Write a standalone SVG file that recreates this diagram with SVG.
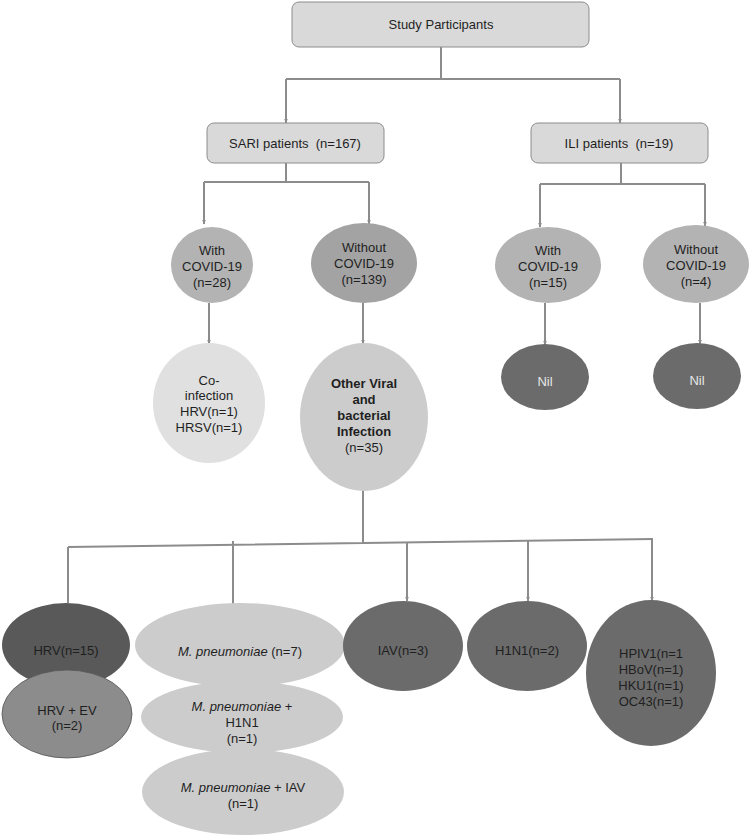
<svg xmlns="http://www.w3.org/2000/svg" width="752" height="838" viewBox="0 0 752 838">
<defs>
<marker id="ah" viewBox="0 0 10 10" refX="9" refY="5" markerWidth="5" markerHeight="5" orient="auto" markerUnits="userSpaceOnUse">
<path d="M0,1 L10,5 L0,9 z" fill="#8c8c8c"/>
</marker>
<style>
text{font-family:"Liberation Sans",Arial,sans-serif;font-size:13px;fill:#1f1f1f;text-anchor:middle}
.box{fill:#d9d9d9;stroke:#8c8c8c;stroke-width:1}
.ln{stroke:#8c8c8c;stroke-width:2;fill:none}
.arr{stroke:#8c8c8c;stroke-width:2;fill:none;marker-end:url(#ah)}
.mid{fill:#b3b3b3}
.mid2{fill:#a3a3a3}
.lite{fill:#e0e0e0}
.lgr{fill:#cccccc}
.dark{fill:#6b6b6b}
.darker{fill:#595959}
.hrvev{fill:#8c8c8c;stroke:#555;stroke-width:0.8}
.b{font-weight:bold}
.i{font-style:italic}
.w{fill:#e6e6e6}
</style>
</defs>
<g id="connectors">
<path class="ln" d="M441,47 V79 M286,79 H620"/>
<path class="arr" d="M286,79 V123"/>
<path class="arr" d="M620,79 V123"/>
<path class="ln" d="M286,163 V182 M204,182 H369"/>
<path class="arr" d="M204,182 V224"/>
<path class="arr" d="M369,182 V224"/>
<path class="ln" d="M621,163 V184 M540,184 H705"/>
<path class="arr" d="M540,184 V227"/>
<path class="arr" d="M705,184 V226"/>
<path class="arr" d="M209,303 V344"/>
<path class="arr" d="M363,303 V344"/>
<path class="arr" d="M545,303 V345"/>
<path class="arr" d="M700,303 V344"/>
<path class="ln" d="M363,490 V543 M68,547 L653,539"/>
<path class="ln" d="M68,547 V603"/>
<path class="ln" d="M233,541 V604"/>
<path class="arr" d="M407,543 V601"/>
<path class="arr" d="M528,541 V601"/>
<path class="arr" d="M652,539 V601"/>
</g>
<g id="study"><rect class="box" x="292" y="2" width="297" height="45" rx="7"/><text x="441" y="29">Study Participants</text></g>
<g id="sari"><rect class="box" x="207" y="123" width="177" height="40" rx="7"/><text x="295" y="148" xml:space="preserve">SARI patients  (n=167)</text></g>
<g id="ili"><rect class="box" x="531" y="123" width="177" height="40" rx="7"/><text x="619" y="148" xml:space="preserve">ILI patients  (n=19)</text></g>
<g id="sari-with"><ellipse class="mid" cx="212" cy="265" rx="41" ry="38"/><text x="212" y="255">With</text><text x="212" y="271">COVID-19</text><text x="212" y="287">(n=28)</text></g>
<g id="sari-without"><ellipse class="mid2" cx="364" cy="263" rx="53" ry="40"/><text x="364" y="252">Without</text><text x="364" y="268">COVID-19</text><text x="364" y="284">(n=139)</text></g>
<g id="ili-with"><ellipse class="mid" cx="548" cy="265" rx="53" ry="38"/><text x="548" y="255">With</text><text x="548" y="271">COVID-19</text><text x="548" y="287">(n=15)</text></g>
<g id="ili-without"><ellipse class="mid" cx="696" cy="264" rx="53" ry="39"/><text x="696" y="254">Without</text><text x="696" y="270">COVID-19</text><text x="696" y="286">(n=4)</text></g>
<g id="coinf"><ellipse class="lite" cx="209" cy="403" rx="56" ry="60"/><text x="209" y="385">Co-</text><text x="209" y="400">infection</text><text x="209" y="416">HRV(n=1)</text><text x="209" y="432">HRSV(n=1)</text></g>
<g id="other"><ellipse class="lgr" cx="364" cy="417" rx="64" ry="74"/><text class="b" x="364" y="388">Other Viral</text><text class="b" x="364" y="404">and</text><text class="b" x="364" y="420">bacterial</text><text class="b" x="364" y="436">Infection</text><text x="364" y="452">(n=35)</text></g>
<g id="nil1"><ellipse class="dark" cx="545" cy="377" rx="44" ry="33"/><text class="w" x="545" y="386">Nil</text></g>
<g id="nil2"><ellipse class="dark" cx="697" cy="376" rx="44" ry="33"/><text class="w" x="697" y="385">Nil</text></g>
<g id="hrv"><ellipse class="darker" cx="66" cy="645" rx="64" ry="42"/><text x="66" y="655">HRV(n=15)</text></g>
<g id="hrvev"><ellipse class="hrvev" cx="67" cy="714" rx="65" ry="44"/><text x="67" y="715">HRV + EV</text><text x="67" y="730">(n=2)</text></g>
<g id="mp"><ellipse class="lgr" cx="240" cy="645" rx="105" ry="42"/><text x="240" y="656"><tspan class="i">M. pneumoniae</tspan> (n=7)</text></g>
<g id="mp-h1n1"><ellipse class="lgr" cx="242" cy="717" rx="101" ry="36"/><text x="242" y="711"><tspan class="i">M. pneumoniae</tspan> +</text><text x="242" y="727">H1N1</text><text x="242" y="743">(n=1)</text></g>
<g id="mp-iav"><ellipse class="lgr" cx="243" cy="792" rx="101" ry="43"/><text x="243" y="792"><tspan class="i">M. pneumoniae</tspan> + IAV</text><text x="243" y="808">(n=1)</text></g>
<g id="iav"><ellipse class="dark" cx="403" cy="646" rx="60" ry="45"/><text x="403" y="655">IAV(n=3)</text></g>
<g id="h1n1"><ellipse class="dark" cx="527" cy="646" rx="60" ry="45"/><text x="527" y="655">H1N1(n=2)</text></g>
<g id="others"><ellipse class="dark" cx="651" cy="673" rx="65" ry="73"/><text x="651" y="658">HPIV1(n=1</text><text x="651" y="674">HBoV(n=1)</text><text x="651" y="690">HKU1(n=1)</text><text x="651" y="706">OC43(n=1)</text></g>
</svg>
